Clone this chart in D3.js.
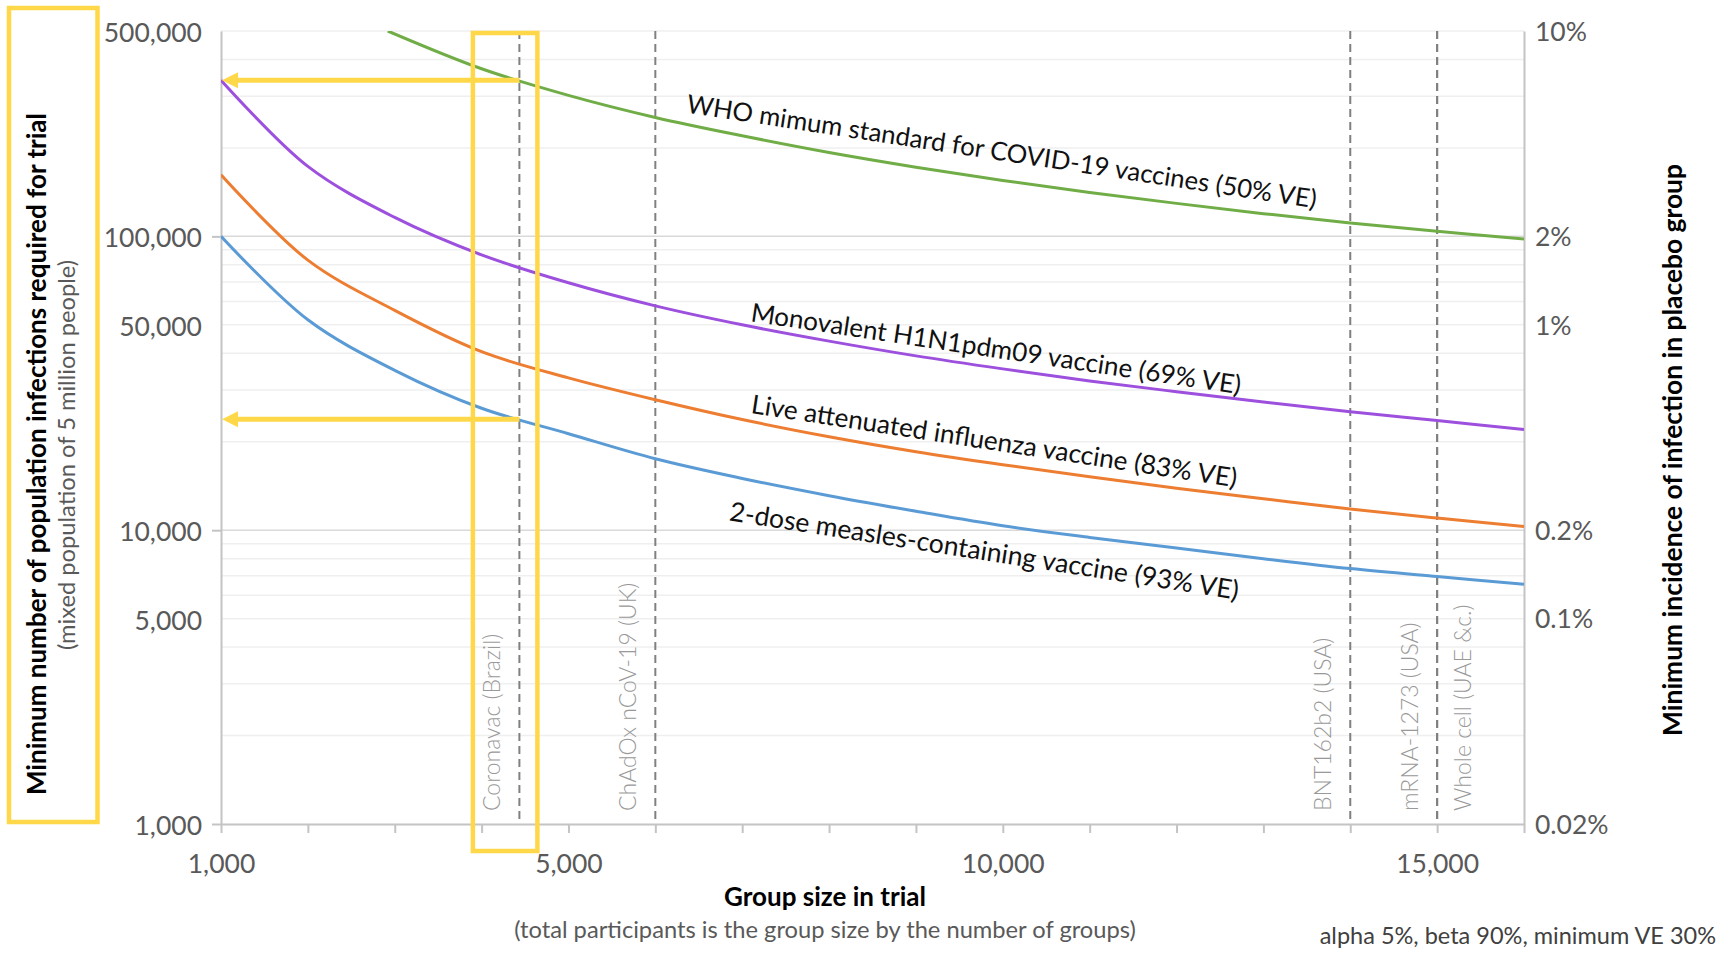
<!DOCTYPE html>
<html>
<head>
<meta charset="utf-8">
<script src="https://cdn.jsdelivr.net/npm/d3@7"></script>
<style>
  body { margin: 0; background: #fff; }
  svg { display: block; font-family: Lato, "Noto Sans", sans-serif; }
</style>
</head>
<body>
<svg id="chart" width="1732" height="953"></svg>
<script>
const groupSizes = [1000, 2000, 3000, 4000, 5000, 6000, 7000, 8000,
                    9000, 10000, 11000, 12000, 13000, 14000, 15000, 16000];
const measles93 = [100000, 52000, 35000, 26000, 21300, 17500, 15000, 13100,
                   11600, 10350, 9450, 8700, 8000, 7400, 6950, 6550];
const liveFlu83 = [162000, 83000, 56000, 40500, 33000, 27800, 23800, 20800,
                   18500, 16700, 15200, 13900, 12800, 11800, 11000, 10300];
const h1n1pdm69 = [340000, 173000, 116000, 86500, 69500, 58000, 50000, 44000,
                   39200, 35400, 32200, 29600, 27300, 25300, 23600, 22000];
// the WHO curve enters the chart at the top edge
const whoSizes = [2920, 4000, 5000, 6000, 7000, 8000, 9000, 10000,
                  11000, 12000, 13000, 14000, 15000, 16000];
const who50 = [500000, 372000, 302000, 254000, 220000, 193000, 172000, 155000,
               141000, 129500, 119500, 111000, 104000, 98000];

const trialNames = ['Coronavac (Brazil)', 'ChAdOx nCoV-19 (UK)', 'BNT162b2 (USA)',
                    'mRNA-1273 (USA)', 'Whole cell (UAE &c.)'];
const trialSizes = [4435, 6000, 14000, 15000, 15000];
const trialLabelSide = ['left', 'left', 'left', 'left', 'right'];

const xTickLabels = [1000, 5000, 10000, 15000];
const yTickLabels = [1000, 5000, 10000, 50000, 100000, 500000];
const incidenceTicks = [0.0002, 0.001, 0.002, 0.01, 0.02, 0.1];
const population = 5000000;

const series = [
  {key: 'who', sizes: whoSizes, values: who50, color: '#70ad47'},
  {key: 'h1n1', sizes: groupSizes, values: h1n1pdm69, color: '#9d50dd'},
  {key: 'flu', sizes: groupSizes, values: liveFlu83, color: '#ed7d31'},
  {key: 'measles', sizes: groupSizes, values: measles93, color: '#5b9bd5'}
];
const byKey = {};
series.forEach(s => byKey[s.key] = s);

const curveLabels = [
  {key: 'who', text: 'WHO mimum standard for COVID-19 vaccines (50% VE)', at: 6330, dy: -11, size: 25.7},
  {key: 'h1n1', text: 'Monovalent H1N1pdm09 vaccine (69% VE)', at: 7080, dy: -5, size: 26},
  {key: 'flu', text: 'Live attenuated influenza vaccine (83% VE)', at: 7080, dy: -8, size: 26.2},
  {key: 'measles', text: '2-dose measles-containing vaccine (93% VE)', at: 6920, dy: 44, size: 26.5}
];

const yellow = '#ffd84a';
const svg = d3.select('#chart');
const margin = {top: 31, right: 208, bottom: 129, left: 221};
const width = 1732 - margin.left - margin.right;
const height = 953 - margin.top - margin.bottom;

const x = d3.scaleLinear().domain([1000, 16000]).range([0, width]);
const y = d3.scaleLog().domain([1000, 500000]).range([height, 0]);
const yPct = d3.scaleLog().domain([1000 / population, 500000 / population]).range([height, 0]);

// log-linear lookup along a series
function valueAt(s, size) {
  const i = Math.max(0, Math.min(s.sizes.length - 2, d3.bisectRight(s.sizes, size) - 1));
  const t = (size - s.sizes[i]) / (s.sizes[i + 1] - s.sizes[i]);
  return Math.exp(Math.log(s.values[i]) * (1 - t) + Math.log(s.values[i + 1]) * t);
}

svg.append('rect').attr('width', 1732).attr('height', 953).attr('fill', '#fff');

const g = svg.append('g').attr('transform', `translate(${margin.left},${margin.top})`);

g.append('defs').append('clipPath').attr('id', 'plot-clip')
  .append('rect').attr('width', width).attr('height', height);

// horizontal gridlines: minor then major
const gridVals = [];
[1000, 10000, 100000].forEach(dec => {
  for (let k = 1; k <= 9; k++) if (dec * k <= 500000) gridVals.push(dec * k);
});
g.append('g').selectAll('line')
  .data(gridVals.filter(v => ![1000, 10000, 100000].includes(v)))
  .enter().append('line')
  .attr('x1', 0).attr('x2', width)
  .attr('y1', d => y(d)).attr('y2', d => y(d))
  .attr('stroke', '#efefef').attr('stroke-width', 1.5);
g.append('g').selectAll('line')
  .data([10000, 100000])
  .enter().append('line')
  .attr('x1', 0).attr('x2', width)
  .attr('y1', d => y(d)).attr('y2', d => y(d))
  .attr('stroke', '#d9d9d9').attr('stroke-width', 1.5);

// x axis
const xAxis = g.append('g').attr('transform', `translate(0,${height})`)
  .call(d3.axisBottom(x)
    .tickValues(d3.range(1000, 16001, 1000))
    .tickFormat(d => xTickLabels.includes(d) ? d3.format(',')(d) : '')
    .tickSize(9).tickSizeOuter(0));
xAxis.selectAll('.tick text').attr('y', 49).attr('dy', 0)
  .attr('font-size', 26.5).attr('fill', '#595959').attr('font-family', 'Lato');

// left axis
const yAxis = g.append('g')
  .call(d3.axisLeft(y).tickValues(yTickLabels).tickFormat(d3.format(','))
    .tickSize(0).tickPadding(19));
yAxis.selectAll('.tick text').attr('font-size', 26.5).attr('fill', '#595959')
  .attr('font-family', 'Lato').attr('dy', '0.4em');
g.append('g').call(d3.axisLeft(y).tickValues([1000, 10000, 100000]).tickFormat('').tickSize(9).tickSizeOuter(0))
  .select('.domain').remove();

// right axis
const rAxis = g.append('g').attr('transform', `translate(${width},0)`)
  .call(d3.axisRight(yPct).tickValues(incidenceTicks)
    .tickFormat(d => (+(d * 100).toPrecision(2)) + '%')
    .tickSize(0).tickPadding(11));
rAxis.selectAll('.tick text').attr('font-size', 26.5).attr('fill', '#595959')
  .attr('font-family', 'Lato').attr('dy', '0.35em');

svg.selectAll('.domain').attr('stroke', '#c4c4c4').attr('stroke-width', 2);
svg.selectAll('.tick line').attr('stroke', '#c4c4c4').attr('stroke-width', 2);

// trial reference lines
const trials = trialNames.map((name, i) => ({name, size: trialSizes[i], side: trialLabelSide[i]}));
g.append('g').selectAll('line').data(trials).enter().append('line')
  .attr('x1', d => x(d.size)).attr('x2', d => x(d.size))
  .attr('y1', 0).attr('y2', height)
  .attr('stroke', '#808080').attr('stroke-width', 2).attr('stroke-dasharray', '8,5');
g.append('g').selectAll('text').data(trials).enter().append('text')
  .attr('transform', d => `translate(${x(d.size) + (d.side === 'left' ? -19 : 34)},${height - 13}) rotate(-90)`)
  .attr('font-size', 23).attr('font-weight', 300).attr('fill', '#999')
  .text(d => d.name);

// curves
const line = d3.line()
  .x(d => x(d[0])).y(d => y(d[1]))
  .curve(d3.curveCatmullRom.alpha(0.5));
g.append('g').attr('clip-path', 'url(#plot-clip)')
  .selectAll('path').data(series).enter().append('path')
  .attr('d', s => line(s.sizes.map((v, i) => [v, s.values[i]])))
  .attr('fill', 'none').attr('stroke', s => s.color).attr('stroke-width', 3);

// curve labels, turned along the chord of their curve
curveLabels.forEach(l => {
  const s = byKey[l.key];
  const x0 = x(l.at), y0 = y(valueAt(s, l.at));
  const t = g.append('text').text(l.text)
    .attr('font-size', l.size).attr('fill', '#111');
  const len = t.node().getComputedTextLength();
  let a = 0;
  for (let k = 0; k < 5; k++) {
    const x1 = x0 + len * Math.cos(a);
    const y1 = y(valueAt(s, x.invert(x1)));
    a = Math.atan2(y1 - y0, x1 - x0);
  }
  t.attr('transform', `translate(${x0},${y0}) rotate(${a * 180 / Math.PI})`).attr('y', l.dy);
});

// highlight of the Coronavac trial
const hx = x(trialSizes[0]);
g.append('rect')
  .attr('x', hx - 46.5).attr('y', 2).attr('width', 64.5).attr('height', height + 25)
  .attr('fill', 'none').attr('stroke', yellow).attr('stroke-width', 4.5);
[byKey.who, byKey.measles].forEach(s => {
  const ay = y(valueAt(s, trialSizes[0]));
  g.append('line').attr('x1', 14).attr('x2', hx).attr('y1', ay).attr('y2', ay)
    .attr('stroke', yellow).attr('stroke-width', 5);
  g.append('path').attr('d', `M1,${ay} L17,${ay - 8} L17,${ay + 8} Z`).attr('fill', yellow);
});
svg.append('rect').attr('x', 9).attr('y', 8).attr('width', 88.5).attr('height', 814)
  .attr('fill', 'none').attr('stroke', yellow).attr('stroke-width', 4.5);

// axis titles
svg.append('text')
  .attr('transform', 'translate(46,454) rotate(-90)').attr('text-anchor', 'middle')
  .attr('font-size', 26).attr('font-weight', 'bold').attr('fill', '#000')
  .text('Minimum number of population infections required for trial');
svg.append('text')
  .attr('transform', 'translate(75,455) rotate(-90)').attr('text-anchor', 'middle')
  .attr('font-size', 23.7).attr('fill', '#595959')
  .text('(mixed population of 5 million people)');
svg.append('text')
  .attr('transform', 'translate(1682,450) rotate(-90)').attr('text-anchor', 'middle')
  .attr('font-size', 26.4).attr('font-weight', 'bold').attr('fill', '#000')
  .text('Minimum incidence of infection in placebo group');
svg.append('text')
  .attr('x', 825).attr('y', 906).attr('text-anchor', 'middle')
  .attr('font-size', 26).attr('font-weight', 'bold').attr('fill', '#000')
  .text('Group size in trial');
svg.append('text')
  .attr('x', 825).attr('y', 938).attr('text-anchor', 'middle')
  .attr('font-size', 23.7).attr('fill', '#595959')
  .text('(total participants is the group size by the number of groups)');
svg.append('text')
  .attr('x', 1716).attr('y', 944).attr('text-anchor', 'end')
  .attr('font-size', 23.5).attr('fill', '#404040')
  .text('alpha 5%, beta 90%, minimum VE 30%');
</script>
</body>
</html>
